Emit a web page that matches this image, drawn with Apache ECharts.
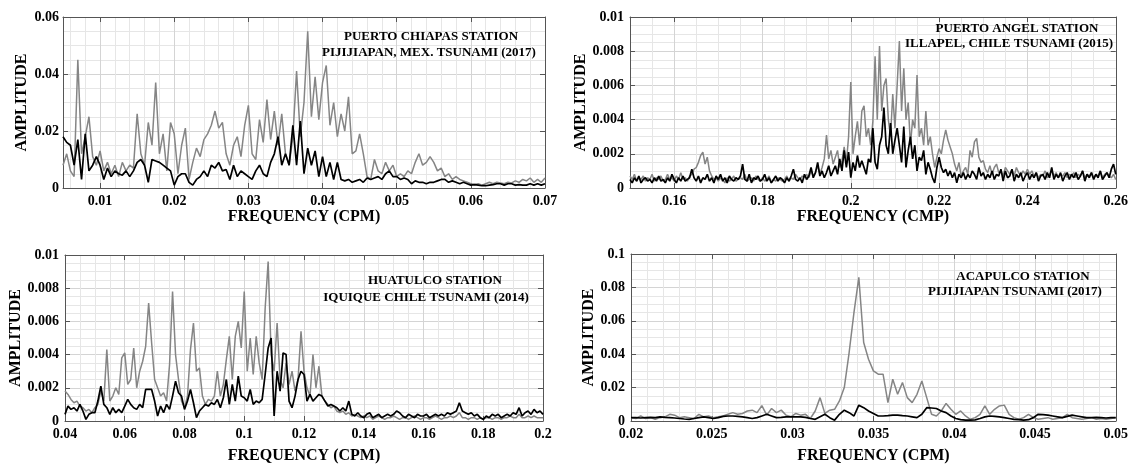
<!DOCTYPE html>
<html><head><meta charset="utf-8">
<script src="https://cdn.jsdelivr.net/npm/echarts@6/dist/echarts.min.js"></script>
<style>html,body{margin:0;padding:0;background:#fff}#c{width:1131px;height:465px}</style>
</head><body><div id="c"></div>
<script>
// ---------- DATA ----------
// Panel 1: Puerto Chiapas, Pijijiapan 2017 (freq 0.005..0.07, step 0.0005)
const p1Start = 0.005, p1Step = 0.0005;
const p1Gray = [
0.008,0.012,0.006,0.004,0.045,0.012,0.018,0.025,0.011,0.008,
0.013,0.006,0.009,0.005,0.008,0.004,0.009,0.006,0.008,0.007,
0.026,0.012,0.008,0.023,0.015,0.037,0.012,0.019,0.006,0.023,
0.019,0.005,0.015,0.021,0.003,0.009,0.014,0.011,0.017,0.019,
0.022,0.027,0.021,0.023,0.012,0.008,0.015,0.018,0.011,0.022,
0.029,0.012,0.010,0.024,0.016,0.031,0.017,0.027,0.015,0.026,
0.012,0.008,0.018,0.041,0.018,0.030,0.055,0.025,0.039,0.024,
0.037,0.043,0.022,0.030,0.018,0.026,0.020,0.032,0.012,0.013,
0.019,0.012,0.004,0.003,0.010,0.006,0.005,0.009,0.006,0.008,
0.004,0.005,0.004,0.006,0.005,0.009,0.012,0.008,0.009,0.011,
0.009,0.006,0.007,0.004,0.005,0.003,0.004,0.003,0.0025,0.002,
0.0015,0.0012,0.0015,0.001,0.0015,0.002,0.0015,0.002,0.0018,0.0015,
0.002,0.0018,0.0025,0.002,0.003,0.0025,0.0035,0.002,0.003,0.002,
0.0035];
const p1Black = [
0.018,0.016,0.015,0.008,0.017,0.003,0.019,0.006,0.008,0.011,
0.008,0.003,0.007,0.004,0.006,0.005,0.0045,0.006,0.004,0.006,
0.009,0.010,0.008,0.002,0.010,0.0095,0.009,0.008,0.007,0.006,
0.001,0.004,0.005,0.005,0.002,0.001,0.003,0.004,0.006,0.004,
0.008,0.007,0.009,0.006,0.0065,0.003,0.008,0.004,0.006,0.005,
0.004,0.003,0.006,0.008,0.005,0.004,0.009,0.012,0.018,0.008,
0.012,0.008,0.022,0.008,0.0235,0.005,0.014,0.008,0.013,0.004,
0.011,0.004,0.009,0.003,0.009,0.003,0.0025,0.003,0.002,0.0025,
0.003,0.002,0.0035,0.003,0.0035,0.004,0.003,0.005,0.006,0.004,
0.004,0.003,0.0035,0.003,0.0015,0.0025,0.002,0.002,0.0015,0.002,
0.002,0.0025,0.003,0.003,0.002,0.0025,0.002,0.0015,0.002,0.0015,
0.001,0.0012,0.001,0.0008,0.0008,0.001,0.0012,0.0015,0.0015,0.001,
0.0015,0.0015,0.001,0.0012,0.001,0.001,0.0015,0.001,0.0015,0.001,
0.0015];

// Panel 2: Puerto Angel, Illapel 2015 (freq 0.15..0.26, step 0.0005)
const p2Start = 0.15, p2Step = 0.0005;
const p2Gray = [
0.0007,0.0005,0.0008,0.0004,0.0006,0.0005,0.0007,0.0004,0.0006,0.0005,
0.0008,0.0004,0.0006,0.0005,0.0007,0.0004,0.0005,0.0008,0.0005,0.0006,
0.0004,0.0007,0.0005,0.0009,0.0005,0.0006,0.0004,0.0007,0.0008,0.0011,
0.0012,0.0015,0.0019,0.0021,0.0014,0.0018,0.0010,0.0007,0.0005,0.0006,
0.0004,0.0006,0.0005,0.0003,0.0006,0.0004,0.0005,0.0007,0.0004,0.0005,
0.0006,0.0005,0.0008,0.0004,0.0005,0.0006,0.0004,0.0007,0.0005,0.0004,
0.0006,0.0004,0.0005,0.0007,0.0003,0.0005,0.0004,0.0006,0.0005,0.0004,
0.0005,0.0007,0.0004,0.0006,0.0005,0.0008,0.0006,0.0005,0.0007,0.0006,
0.0008,0.0006,0.0010,0.0007,0.0009,0.0013,0.0008,0.0012,0.0017,0.0031,
0.0017,0.0022,0.0014,0.0018,0.0022,0.0012,0.0016,0.0024,0.0015,0.0030,
0.0062,0.0020,0.0030,0.0039,0.0025,0.0045,0.0048,0.0030,0.0035,0.0025,
0.0039,0.0077,0.0040,0.0083,0.0045,0.0060,0.0064,0.0040,0.0030,0.0055,
0.0035,0.0060,0.0086,0.0045,0.0070,0.0040,0.0050,0.0025,0.0040,0.0035,
0.0066,0.0030,0.0035,0.0025,0.0045,0.0025,0.0030,0.0020,0.0012,0.0018,
0.0023,0.0020,0.0028,0.0034,0.0028,0.0024,0.0020,0.0014,0.0010,0.0015,
0.0007,0.0010,0.0012,0.0008,0.0022,0.0018,0.0027,0.0029,0.0018,0.0015,
0.0016,0.0011,0.0009,0.0013,0.0008,0.0012,0.0014,0.0009,0.0010,0.0007,
0.0012,0.0010,0.0008,0.0011,0.0007,0.0012,0.0009,0.0007,0.0010,0.0008,
0.0011,0.0008,0.0010,0.0007,0.0009,0.0006,0.0008,0.0007,0.0010,0.0006,
0.0008,0.0010,0.0007,0.0009,0.0006,0.0008,0.0007,0.0009,0.0006,0.0008,
0.0007,0.0009,0.0006,0.0008,0.0007,0.0010,0.0006,0.0008,0.0007,0.0009,
0.0006,0.0008,0.0007,0.0010,0.0006,0.0008,0.0009,0.0007,0.0006,0.0008,
0.0005];
const p2Black = [
0.0005,0.0003,0.0006,0.0004,0.0007,0.0003,0.0005,0.0006,0.0004,0.0005,
0.0003,0.0006,0.0004,0.0007,0.0004,0.0005,0.0003,0.0006,0.0004,0.0008,
0.0005,0.0003,0.0006,0.0004,0.0007,0.0004,0.0005,0.0006,0.0011,0.0006,
0.0004,0.0007,0.0003,0.0006,0.0005,0.0008,0.0004,0.0006,0.0003,0.0007,
0.0005,0.0008,0.0004,0.0006,0.0003,0.0007,0.0005,0.0004,0.0006,0.0005,
0.0007,0.0014,0.0005,0.0004,0.0008,0.0003,0.0006,0.0005,0.0007,0.0004,
0.0005,0.0008,0.0004,0.0006,0.0003,0.0005,0.0007,0.0004,0.0006,0.0005,
0.0003,0.0006,0.0004,0.0007,0.0011,0.0005,0.0004,0.0006,0.0003,0.0008,
0.0005,0.0007,0.0012,0.0006,0.0009,0.0015,0.0007,0.0010,0.0006,0.0009,
0.0013,0.0007,0.0010,0.0013,0.0008,0.0017,0.0010,0.0022,0.0012,0.0021,
0.0006,0.0015,0.0010,0.0019,0.0012,0.0016,0.0012,0.0008,0.0017,0.0015,
0.0035,0.0015,0.0011,0.0025,0.0030,0.0047,0.0025,0.0020,0.0038,0.0020,
0.0028,0.0035,0.0025,0.0015,0.0036,0.0012,0.0022,0.0030,0.0017,0.0025,
0.0010,0.0018,0.0016,0.0022,0.0008,0.0015,0.0011,0.0006,0.0003,0.0012,
0.0018,0.0012,0.0009,0.0011,0.0007,0.0010,0.0006,0.0009,0.0003,0.0008,
0.0006,0.0009,0.0005,0.0008,0.0006,0.0010,0.0008,0.0005,0.0012,0.0007,
0.0009,0.0005,0.0008,0.0006,0.0010,0.0005,0.0008,0.0007,0.0011,0.0004,
0.0010,0.0006,0.0007,0.0011,0.0004,0.0008,0.0006,0.0009,0.0004,0.0007,
0.0009,0.0005,0.0008,0.0006,0.0009,0.0004,0.0007,0.0008,0.0005,0.0009,
0.0006,0.0012,0.0005,0.0008,0.0006,0.0009,0.0004,0.0007,0.0009,0.0005,
0.0008,0.0006,0.0009,0.0005,0.0007,0.0010,0.0004,0.0008,0.0006,0.0009,
0.0005,0.0008,0.0006,0.0010,0.0005,0.0007,0.0009,0.0006,0.0011,0.0014,
0.0008];

// Panel 3: Huatulco, Iquique 2014 (freq 0.04..0.2, step 0.001)
const p3Start = 0.04, p3Step = 0.001;
const p3Gray = [
0.0018,0.0016,0.0013,0.0011,0.0012,0.0009,0.0008,0.0006,0.0007,0.0005,
0.0008,0.0010,0.0018,0.0012,0.0043,0.0012,0.0015,0.0020,0.0016,0.0038,
0.0041,0.0022,0.0025,0.0044,0.0020,0.0030,0.0036,0.0045,0.0071,0.0047,
0.0025,0.0020,0.0015,0.0017,0.0012,0.0034,0.0078,0.0040,0.0025,0.0012,
0.0008,0.0015,0.0043,0.0059,0.0030,0.0032,0.0015,0.0010,0.0013,0.0012,
0.0015,0.0030,0.0015,0.0022,0.0037,0.0051,0.0025,0.0051,0.0060,0.0044,
0.0078,0.0030,0.0050,0.0028,0.0051,0.0035,0.0025,0.0068,0.0096,0.0040,
0.0030,0.0059,0.0025,0.0020,0.0035,0.0022,0.0030,0.0018,0.0025,0.0054,
0.0030,0.0020,0.0015,0.0040,0.0020,0.0033,0.0015,0.0012,0.0010,0.0008,
0.0009,0.0006,0.0005,0.0006,0.0004,0.0005,0.0003,0.0004,0.0003,0.0002,
0.0003,0.0002,0.0003,0.0001,0.0002,0.0003,0.0002,0.0001,0.0002,0.0002,
0.0003,0.0002,0.0001,0.0002,0.0002,0.0001,0.0002,0.0003,0.0002,0.0001,
0.0002,0.0002,0.0001,0.0002,0.0003,0.0002,0.0001,0.0002,0.0002,0.0003,
0.0002,0.0003,0.0005,0.0002,0.0002,0.0001,0.0002,0.0002,0.0001,0.0002,
0.0001,0.0002,0.0002,0.0001,0.0002,0.0002,0.0001,0.0002,0.0002,0.0003,
0.0002,0.0002,0.0004,0.0002,0.0002,0.0003,0.0002,0.0003,0.0002,0.0002,
0.0002];
const p3Black = [
0.0004,0.0009,0.0007,0.0008,0.0006,0.0010,0.0006,0.0001,0.0004,0.0005,
0.0005,0.0012,0.0021,0.0010,0.0008,0.0004,0.0008,0.0005,0.0007,0.0005,
0.0009,0.0013,0.0010,0.0008,0.0007,0.0010,0.0008,0.0019,0.0019,0.0019,
0.0012,0.0003,0.0009,0.0005,0.0010,0.0007,0.0015,0.0024,0.0017,0.0015,
0.0007,0.0012,0.0019,0.0011,0.0002,0.0006,0.0008,0.0010,0.0009,0.0011,
0.0010,0.0013,0.0008,0.0014,0.0025,0.0010,0.0022,0.0012,0.0027,0.0015,
0.0014,0.0012,0.0019,0.0010,0.0012,0.0011,0.0013,0.0028,0.0044,0.0050,
0.0003,0.0030,0.0018,0.0041,0.0040,0.0012,0.0008,0.0015,0.0025,0.0030,
0.0028,0.0012,0.0016,0.0012,0.0014,0.0016,0.0015,0.0012,0.0009,0.0010,
0.0009,0.0008,0.0006,0.0008,0.0006,0.0012,0.0004,0.0003,0.0005,0.0003,
0.0002,0.0004,0.0005,0.0002,0.0003,0.0004,0.0002,0.0003,0.0004,0.0003,
0.0004,0.0006,0.0005,0.0003,0.0002,0.0004,0.0003,0.0002,0.0004,0.0003,
0.0003,0.0004,0.0002,0.0003,0.0004,0.0003,0.0004,0.0003,0.0005,0.0004,
0.0005,0.0006,0.0011,0.0006,0.0005,0.0004,0.0005,0.0003,0.0004,0.0002,
0.0001,0.0003,0.0002,0.0004,0.0003,0.0004,0.0002,0.0003,0.0004,0.0003,
0.0005,0.0004,0.0008,0.0003,0.0005,0.0006,0.0004,0.0007,0.0005,0.0006,
0.0004];

// Panel 4: Acapulco, Pijijiapan 2017 (freq 0.02..0.05, step 0.0003)
const p4Start = 0.02, p4Step = 0.0003;
const p4Gray = [
0.002,0.0015,0.003,0.0015,0.002,0.001,0.002,0.0025,0.004,0.0035,
0.002,0.0025,0.002,0.0015,0.004,0.0025,0.003,0.002,0.0025,0.003,
0.004,0.005,0.004,0.0045,0.006,0.0065,0.005,0.0092,0.0035,0.0075,
0.005,0.0065,0.0035,0.0025,0.0045,0.0035,0.004,0.0015,0.006,0.014,
0.0045,0.0065,0.007,0.012,0.020,0.041,0.065,0.086,0.047,0.037,
0.030,0.028,0.028,0.011,0.025,0.016,0.023,0.014,0.011,0.016,
0.024,0.014,0.004,0.003,0.006,0.0105,0.007,0.004,0.006,0.003,
0.001,0.002,0.004,0.009,0.004,0.007,0.009,0.0095,0.004,0.002,
0.001,0.002,0.004,0.002,0.001,0.0015,0.002,0.001,0.0015,0.002,
0.004,0.002,0.0015,0.001,0.0015,0.002,0.001,0.0015,0.001,0.0015,
0.002];
const p4Black = [
0.002,0.002,0.0018,0.002,0.0022,0.002,0.0025,0.0022,0.002,0.0018,
0.0015,0.0012,0.001,0.0015,0.002,0.0025,0.002,0.0015,0.002,0.0028,
0.003,0.003,0.0028,0.0025,0.002,0.0015,0.002,0.003,0.004,0.003,
0.002,0.0022,0.0025,0.0025,0.0025,0.0025,0.0022,0.0015,0.001,0.0025,
0.004,0.002,0.0005,0.004,0.0065,0.005,0.003,0.0095,0.008,0.006,
0.0045,0.003,0.003,0.0032,0.0035,0.0035,0.0032,0.003,0.0025,0.002,
0.004,0.008,0.0078,0.0075,0.006,0.005,0.003,0.0015,0.0008,0.0005,
0.0005,0.0007,0.0015,0.0025,0.003,0.0028,0.0025,0.002,0.0015,0.001,
0.0008,0.0005,0.0008,0.002,0.004,0.0038,0.0035,0.003,0.0025,0.002,
0.0028,0.0035,0.003,0.0025,0.002,0.002,0.0022,0.002,0.0018,0.002,
0.002];

// Tick labels
const p1XTicks = [0.01,0.02,0.03,0.04,0.05,0.06,0.07];
const p2XTicks = [0.16,0.18,0.2,0.22,0.24,0.26];
const p3XTicks = [0.04,0.06,0.08,0.1,0.12,0.14,0.16,0.18,0.2];
const p4XTicks = [0.02,0.025,0.03,0.035,0.04,0.045,0.05];

const p1Notes = ['PUERTO CHIAPAS STATION','PIJIJIAPAN, MEX. TSUNAMI (2017)'];
const p2Notes = ['PUERTO ANGEL STATION','ILLAPEL, CHILE TSUNAMI (2015)'];
const p3Notes = ['HUATULCO STATION','IQUIQUE CHILE TSUNAMI (2014)'];
const p4Notes = ['ACAPULCO STATION','PIJIJIAPAN TSUNAMI (2017)'];

// ---------- BUILD ----------
const FONT = '"Liberation Serif","Times New Roman",serif';
function pairs(start, step, vals){ return vals.map((v,i)=>[+(start+i*step).toFixed(6), v]); }
function gridVals(a,b,s){ const out=[]; const n=Math.round((b-a)/s); for(let i=0;i<=n;i++) out.push(+(a+i*s).toFixed(6)); return out; }

const panels = [
 {grid:{left:63,top:17,width:482,height:171}, xMin:0.005,xMax:0.07,xTicks:p1XTicks,xMinor:gridVals(0.006,0.07,0.002),
  yMax:0.06,yInt:0.02,xName:'FREQUENCY (CPM)',xGap:20,yGap:33,yMargin:4,start:p1Start,step:p1Step,gray:p1Gray,black:p1Black,
  notes:p1Notes, notePos:[[431,37],[429,53]]},
 {grid:{left:630,top:17,width:487,height:171}, xMin:0.15,xMax:0.26,xTicks:p2XTicks,xMinor:gridVals(0.15,0.26,0.005),
  yMax:0.01,yInt:0.002,xName:'FREQUENCY (CMP)',xGap:20,yGap:35,yMargin:6,start:p2Start,step:p2Step,gray:p2Gray,black:p2Black,
  notes:p2Notes, notePos:[[1017,29],[1009,44]]},
 {grid:{left:65,top:255,width:478,height:171}, xMin:0.04,xMax:0.2,xTicks:p3XTicks,xMinor:gridVals(0.04,0.2,0.005),
  yMax:0.01,yInt:0.002,xName:'FREQUENCY (CPM)',xGap:27,yGap:38,yMargin:6,start:p3Start,step:p3Step,gray:p3Gray,black:p3Black,
  notes:p3Notes, notePos:[[435,281],[426,298]]},
 {grid:{left:631,top:254,width:485,height:172}, xMin:0.02,xMax:0.05,xTicks:p4XTicks,xMinor:gridVals(0.02,0.05,0.001),
  yMax:0.1,yInt:0.02,xName:'FREQUENCY (CPM)',xGap:27,yGap:33,yMargin:6,start:p4Start,step:p4Step,gray:p4Gray,black:p4Black,
  notes:p4Notes, notePos:[[1023,277],[1015,292]]}
];

const FRAME = '#555';
const MAJOR = '#d4d4d4';
const MINOR = '#e6e6e6';
const labelStyle = {fontFamily:FONT,fontWeight:'bold',fontSize:14,color:'#000'};
const nameStyle = {fontFamily:FONT,fontWeight:'bold',fontSize:16,color:'#000'};

const option = {animation:false, backgroundColor:'#fff', grid:[], xAxis:[], yAxis:[], series:[], graphic:[]};
panels.forEach((p,k)=>{
  option.grid.push(Object.assign({containLabel:false, show:false}, p.grid));
  // minor vertical grid
  option.xAxis.push({gridIndex:k,type:'value',position:'top',min:p.xMin,max:p.xMax,z:0,
    axisLine:{show:false},axisTick:{show:false,customValues:p.xMinor},axisLabel:{show:false},
    splitLine:{show:true,lineStyle:{color:MINOR,width:1}}});
  // main bottom axis
  option.xAxis.push({gridIndex:k,type:'value',position:'bottom',min:p.xMin,max:p.xMax,
    name:p.xName,nameLocation:'middle',nameGap:p.xGap,nameTextStyle:nameStyle,
    axisLine:{show:true,onZero:false,lineStyle:{color:FRAME,width:1}},
    axisTick:{show:true,inside:true,length:5,customValues:p.xTicks,lineStyle:{color:FRAME}},
    axisLabel:Object.assign({customValues:p.xTicks,margin:6,formatter:v=>String(+(+v).toFixed(4))},labelStyle),
    splitLine:{show:true,lineStyle:{color:MAJOR,width:1}}});
  // top frame axis
  option.xAxis.push({gridIndex:k,type:'value',position:'top',min:p.xMin,max:p.xMax,
    axisLine:{show:true,onZero:false,lineStyle:{color:FRAME,width:1}},
    axisTick:{show:true,inside:true,length:5,customValues:p.xTicks,lineStyle:{color:FRAME}},
    axisLabel:{show:false},splitLine:{show:false}});
  // left y
  option.yAxis.push({gridIndex:k,type:'value',position:'left',min:0,max:p.yMax,interval:p.yInt,
    name:'AMPLITUDE',nameLocation:'middle',nameGap:p.yGap,nameRotate:90,nameTextStyle:nameStyle,
    axisLine:{show:true,onZero:false,lineStyle:{color:FRAME,width:1}},
    axisTick:{show:true,inside:true,length:5,lineStyle:{color:FRAME}},
    axisLabel:Object.assign({margin:p.yMargin},labelStyle),
    splitLine:{show:true,lineStyle:{color:MAJOR,width:1}},
    minorTick:{show:false,splitNumber:4},
    minorSplitLine:{show:true,lineStyle:{color:MINOR,width:1}}});
  // right frame y
  option.yAxis.push({gridIndex:k,type:'value',position:'right',min:0,max:p.yMax,interval:p.yInt,
    axisLine:{show:true,onZero:false,lineStyle:{color:FRAME,width:1}},
    axisTick:{show:true,inside:true,length:5,lineStyle:{color:FRAME}},
    axisLabel:{show:false},splitLine:{show:false}});
  option.series.push({type:'line',xAxisIndex:3*k+1,yAxisIndex:2*k,data:pairs(p.start,p.step,p.gray),
    showSymbol:false,symbol:'none',z:3,lineStyle:{color:'#858585',width:1.5},silent:true});
  option.series.push({type:'line',xAxisIndex:3*k+1,yAxisIndex:2*k,data:pairs(p.start,p.step,p.black),
    showSymbol:false,symbol:'none',z:4,lineStyle:{color:'#000',width:1.7},silent:true});
  p.notes.forEach((t,j)=>{
    option.graphic.push({type:'text',x:p.notePos[j][0],y:p.notePos[j][1],z:10,
      style:{text:t,font:'bold 13px '+FONT,fill:'#000',align:'center',verticalAlign:'middle',textAlign:'center',textVerticalAlign:'middle'}});
  });
});

const chart = echarts.init(document.getElementById('c'), null, {renderer:'canvas'});
chart.setOption(option);
</script></body></html>
